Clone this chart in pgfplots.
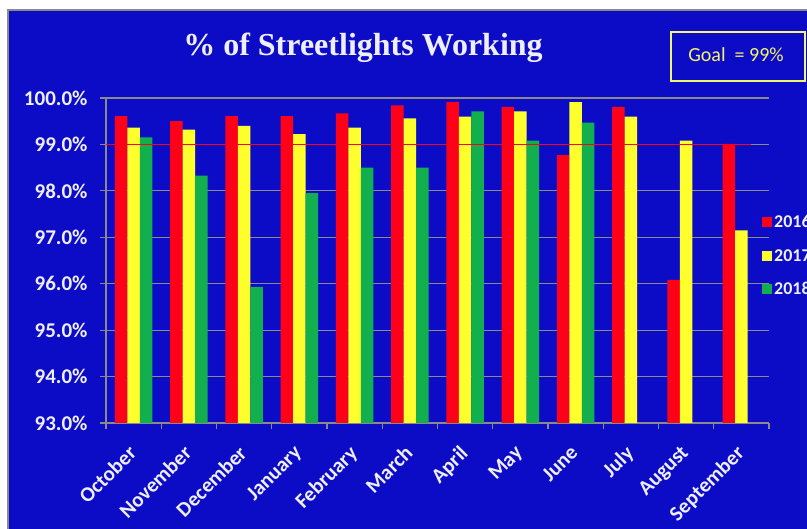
\documentclass[border=0pt]{standalone}
\usepackage{pgfplots}
\pgfplotsset{compat=1.18}
\usepackage{fontspec}
\setmainfont{Carlito}
\newfontfamily\titlefont{Liberation Serif}

\definecolor{bg}{HTML}{0C0CC6}
\definecolor{axgray}{HTML}{8A8A8A}
\definecolor{r16}{HTML}{FF0019}
\definecolor{y17}{HTML}{FFFF2E}
\definecolor{g18}{HTML}{12AF4F}
\definecolor{lbl}{HTML}{EEEEFF}
\definecolor{goalyel}{HTML}{F4F46A}

\begin{document}
\begin{tikzpicture}[x=1bp,y=1bp]
\useasboundingbox (0,0) rectangle (807,529);
\clip (0,0) rectangle (807,529);
\fill[white] (0,0) rectangle (807,529);
\fill[bg] (8,0) rectangle (807,519);
\draw[axgray, line width=1.5bp] (8,0) -- (8,519) -- (807,519);

\node[anchor=base, text=lbl, font=\titlefont\bfseries\fontsize{32bp}{35bp}\selectfont] at (363,473) {\% of Streetlights Working};
\draw[goalyel, line width=1.5bp] (671,497) rectangle (805,448);
\node[text=goalyel, font=\fontsize{20bp}{22bp}\selectfont] at (736,474) {Goal~ = 99\%};

\begin{axis}[
  at={(106bp,106bp)}, anchor=south west,
  scale only axis, width=663bp, height=325bp,
  xmin=-0.5, xmax=11.5, ymin=93, ymax=100,
  ybar, bar width=12.5bp,
  axis lines*=left,
  axis line style={draw=axgray, line width=1.2bp, -},
  tick align=outside, major tick length=6bp, minor tick length=6bp,
  tick style={draw=axgray, line width=1.2bp},
  major x tick style={draw=none},
  xtick={0,...,11},
  minor xtick={-0.5,0.5,...,11.5},
  xticklabels={October,November,December,January,February,March,April,May,June,July,August,September},
  xticklabel style={xshift=-6.5bp, yshift=-15bp, rotate=45, anchor=north east, inner sep=0pt, text=lbl,
    font=\bfseries\fontsize{21bp}{23bp}\selectfont},
  ytick={93,...,100},
  yticklabel={\pgfmathprintnumber[fixed,fixed zerofill,precision=1]{\tick}\%},
  yticklabel style={anchor=east, text=lbl, font=\bfseries\fontsize{21bp}{23bp}\selectfont, xshift=-9bp},
  /pgf/number format/assume math mode=true,
  ymajorgrids, grid style={draw=axgray, line width=1.2bp},
  legend style={at={(0.9894,0.514)}, anchor=west, draw=none, fill=none,
    text=lbl, font=\bfseries\fontsize{18bp}{20bp}\selectfont,
    inner sep=0pt, row sep=16bp},
  legend cell align=left,
  legend image code/.code={\fill[#1] (0bp,-5bp) rectangle (10bp,5bp);},
]
\addplot[fill=r16, draw=none, bar shift=-12.5bp] coordinates {
 (0,99.61) (1,99.50) (2,99.61) (3,99.61) (4,99.67) (5,99.84)
 (6,99.91) (7,99.81) (8,98.77) (9,99.81) (10,96.08) (11,99.01)};
\addlegendentry{2016}
\addplot[fill=y17, draw=none, bar shift=0bp] coordinates {
 (0,99.36) (1,99.32) (2,99.40) (3,99.22) (4,99.36) (5,99.56)
 (6,99.60) (7,99.71) (8,99.91) (9,99.60) (10,99.08) (11,97.15)};
\addlegendentry{2017}
\addplot[fill=g18, draw=none, bar shift=12.5bp] coordinates {
 (0,99.15) (1,98.33) (2,95.93) (3,97.95) (4,98.50) (5,98.50)
 (6,99.71) (7,99.08) (8,99.47)};
\addlegendentry{2018}
\addplot[sharp plot, draw=r16, line width=1.5bp, no marks, forget plot] coordinates {(-0.5,99) (11.17,99)};
\end{axis}
\end{tikzpicture}
\end{document}
